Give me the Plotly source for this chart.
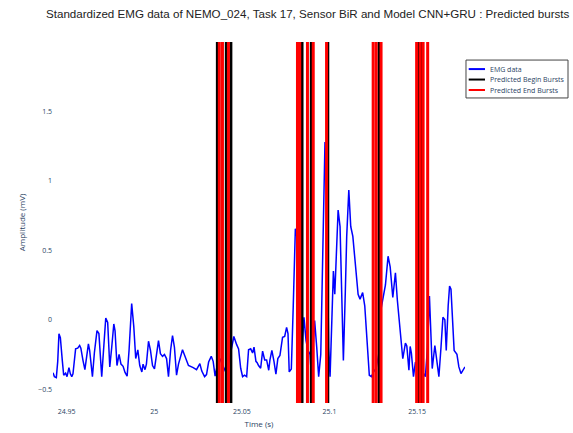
import plotly.graph_objects as go

# ---- data ----
emg_time = [
    24.9422, 24.9430, 24.9441, 24.9449, 24.9456, 24.9464, 24.9475, 24.9483, 24.9494, 24.9502,
    24.9513, 24.9521, 24.9529, 24.9536, 24.9551, 24.9563, 24.9574, 24.9581, 24.9593, 24.9604,
    24.9624, 24.9631, 24.9647, 24.9658, 24.9673, 24.9684, 24.9700, 24.9711, 24.9723, 24.9734,
    24.9746, 24.9757, 24.9769, 24.9776, 24.9787, 24.9799, 24.9810, 24.9822, 24.9833, 24.9845,
    24.9856, 24.9871, 24.9883, 24.9894, 24.9906, 24.9917, 24.9929, 24.9936, 24.9947, 24.9955,
    24.9967, 24.9978, 24.9990, 25.0001, 25.0013, 25.0024, 25.0035, 25.0047, 25.0058, 25.0070,
    25.0081, 25.0093, 25.0104, 25.0115, 25.0127, 25.0138, 25.0161, 25.0176, 25.0195, 25.0222,
    25.0241, 25.0260, 25.0271, 25.0287, 25.0298, 25.0310, 25.0325, 25.0336, 25.0347, 25.0359,
    25.0374, 25.0391, 25.0409, 25.0426, 25.0443, 25.0454, 25.0470, 25.0481, 25.0493, 25.0504,
    25.0515, 25.0527, 25.0538, 25.0550, 25.0561, 25.0569, 25.0580, 25.0587, 25.0595, 25.0607,
    25.0618, 25.0630, 25.0641, 25.0653, 25.0660, 25.0671, 25.0683, 25.0694, 25.0705, 25.0717,
    25.0732, 25.0744, 25.0755, 25.0763, 25.0770, 25.0782, 25.0793, 25.0805, 25.0813, 25.0824,
    25.0835, 25.0854, 25.0866, 25.0877, 25.0889, 25.0896, 25.0915, 25.0927, 25.0938, 25.0950,
    25.0961, 25.0974, 25.0984, 25.0995, 25.1003, 25.1014, 25.1022, 25.1030, 25.1037, 25.1049,
    25.1060, 25.1071, 25.1079, 25.1090, 25.1098, 25.1110, 25.1121, 25.1133, 25.1148, 25.1163,
    25.1174, 25.1189, 25.1201, 25.1216, 25.1227, 25.1239, 25.1250, 25.1266, 25.1281, 25.1292,
    25.1307, 25.1319, 25.1334, 25.1346, 25.1361, 25.1376, 25.1387, 25.1395, 25.1407, 25.1418,
    25.1433, 25.1441, 25.1453, 25.1460, 25.1467, 25.1479, 25.1490, 25.1502, 25.1517, 25.1533,
    25.1547, 25.1559, 25.1570, 25.1578, 25.1586, 25.1601, 25.1613, 25.1624, 25.1636, 25.1647,
    25.1658, 25.1666, 25.1677, 25.1685, 25.1693, 25.1704, 25.1711, 25.1727, 25.1738, 25.1750,
    25.1761, 25.1773,
]
emg_amp = [
    -0.383, -0.410, -0.417, -0.300, -0.102, -0.130, -0.293, -0.400, -0.385, -0.410,
    -0.345, -0.390, -0.410, -0.390, -0.210, -0.205, -0.186, -0.205, -0.293, -0.360,
    -0.174, -0.220, -0.410, -0.240, -0.079, -0.100, -0.410, -0.170, 0.012, -0.020,
    -0.340, -0.200, -0.031, -0.080, -0.330, -0.250, -0.320, -0.336, -0.380, -0.407,
    -0.220, 0.117, -0.050, -0.280, -0.217, -0.330, -0.376, -0.320, -0.360, -0.320,
    -0.155, -0.220, -0.330, -0.355, -0.250, -0.150, -0.245, -0.264, -0.250, -0.280,
    -0.410, -0.220, -0.114, -0.200, -0.400, -0.320, -0.217, -0.270, -0.330, -0.345,
    -0.360, -0.317, -0.370, -0.410, -0.395, -0.305, -0.264, -0.300, -0.407, -0.330,
    -0.280, -0.330, -0.380, -0.300, -0.198, -0.121, -0.180, -0.210, -0.350, -0.410,
    -0.400, -0.410, -0.217, -0.210, -0.240, -0.198, -0.300, -0.310, -0.330, -0.350,
    -0.226, -0.290, -0.290, -0.364, -0.290, -0.221, -0.300, -0.393, -0.280, -0.257,
    -0.126, -0.120, -0.055, -0.100, -0.376, -0.355, 0.100, 0.655, 0.600, -0.007,
    -0.388, 0.017, -0.150, -0.221, -0.250, -0.400, -0.007, -0.200, -0.410, -0.250,
    0.400, 1.279, 0.900, -0.200, -0.410, -0.050, 0.350, 0.183, 0.450, 0.790,
    0.670, 0.100, -0.293, 0.200, 0.600, 0.934, 0.671, 0.600, 0.380, 0.183,
    0.148, 0.195, 0.100, -0.220, -0.400, -0.410, -0.380, -0.350, -0.245, 0.064,
    0.183, 0.250, 0.457, 0.380, 0.160, 0.338, 0.140, 0.040, -0.120, -0.281,
    -0.169, -0.190, -0.364, -0.193, -0.240, -0.410, -0.305, -0.330, -0.300, -0.380,
    -0.410, -0.200, 0.171, -0.100, -0.352, -0.186, -0.300, -0.410, -0.200, 0.017,
    0.000, -0.221, 0.100, 0.243, 0.220, -0.040, -0.221, -0.250, -0.340, -0.388,
    -0.360, -0.340,
]
begin_times = [25.0360, 25.0411, 25.0437, 25.0843, 25.0896, 25.0990,
               25.1283, 25.1509, 25.1526]
end_times = [25.0371, 25.0389, 25.0423, 25.0817, 25.0830, 25.0874, 25.0907,
             25.0983, 25.1249, 25.1266, 25.1294, 25.1497, 25.1517, 25.1534, 25.1560]
line_span = [-0.60, 2.00]   # vertical extent of the burst markers (mV)
x_ticks = [24.95, 25.0, 25.05, 25.1, 25.15]
x_tick_labels = ["24.95", "25", "25.05", "25.1", "25.15"]
y_ticks = [-0.5, 0, 0.5, 1, 1.5]
y_tick_labels = ["\u22120.5", "0", "0.5", "1", "1.5"]

series_names = ["EMG data", "Predicted Begin Bursts", "Predicted End Bursts"]
series_colors = ["blue", "black", "red"]


def vlines(times):
    xs, ys = [], []
    for t in times:
        xs += [t, t, None]
        ys += [line_span[0], line_span[1], None]
    return xs, ys


fig = go.Figure()
fig.add_trace(go.Scatter(x=emg_time, y=emg_amp, mode="lines", name=series_names[0],
                         line=dict(color=series_colors[0], width=1.5), showlegend=False))
bx, by = vlines(begin_times)
fig.add_trace(go.Scatter(x=bx, y=by, mode="lines", name=series_names[1],
                         line=dict(color=series_colors[1], width=3), showlegend=False))
ex, ey = vlines(end_times)
fig.add_trace(go.Scatter(x=ex, y=ey, mode="lines", name=series_names[2],
                         line=dict(color=series_colors[2], width=3), showlegend=False))

# compact legend box (drawn in paper coordinates, right of the plot area)
leg_x0, leg_x1, leg_y0, leg_y1 = 1.0024, 1.25, 0.845, 0.950
row_y = [0.925, 0.896, 0.867]
shapes = [dict(type="rect", xref="paper", yref="paper", x0=leg_x0, x1=leg_x1,
               y0=leg_y0, y1=leg_y1, line=dict(color="#444", width=1),
               fillcolor="white", layer="above")]
annotations = []
for name, col, ry in zip(series_names, series_colors, row_y):
    shapes.append(dict(type="line", xref="paper", yref="paper", x0=1.009, x1=1.0485,
                       y0=ry, y1=ry, line=dict(color=col, width=2), layer="above"))
    annotations.append(dict(xref="paper", yref="paper", x=1.055, y=ry, text=name,
                            showarrow=False, xanchor="left", yanchor="middle",
                            font=dict(size=7, color="#2a3f5f")))

fig.update_layout(
    template="plotly",
    width=573, height=433,
    margin=dict(l=53, r=108, t=42, b=30, autoexpand=False),
    paper_bgcolor="white", plot_bgcolor="white",
    title=dict(text="Standardized EMG data of NEMO_024, Task 17, Sensor BiR and Model CNN+GRU : Predicted bursts",
               xref="container", x=0.0803, xanchor="left", y=0.968, yanchor="middle",
               font=dict(family="Liberation Sans, Arial", size=11.6, color="#222")),
    font=dict(family="Open Sans, sans-serif", size=7),
    showlegend=False,
    shapes=shapes,
    annotations=annotations,
)
fig.update_xaxes(range=[emg_time[0], emg_time[-1]], showgrid=False, zeroline=False,
                 tickvals=x_ticks, ticktext=x_tick_labels, tickfont=dict(size=7),
                 ticklabelstandoff=3,
                 title=dict(text="Time (s)", font=dict(size=8), standoff=6))
fig.update_yaxes(range=line_span, showgrid=False, zeroline=False,
                 tickvals=y_ticks, ticktext=y_tick_labels, tickfont=dict(size=7),
                 title=dict(text="Amplitude (mV)", font=dict(size=8), standoff=11))

fig.write_html("out.html")
